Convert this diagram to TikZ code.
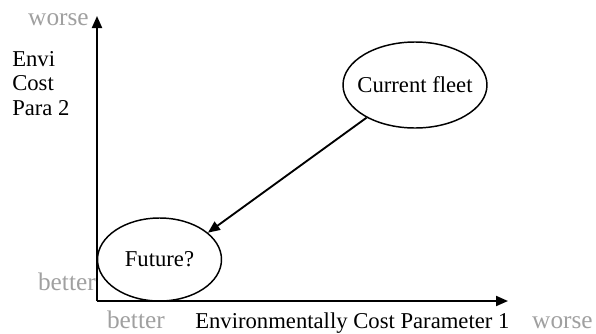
\documentclass[tikz,border=0pt]{standalone}
\usepackage{fontspec}
\setmainfont{Liberation Serif}
\usetikzlibrary{arrows.meta,shapes.geometric}
\definecolor{lightgray}{HTML}{A0A0A0}
\begin{document}
\begin{tikzpicture}[x=0.75pt,y=-0.75pt,
  font=\fontsize{17}{20}\selectfont,
  lbl/.style={inner sep=0pt,text=black},
  graylbl/.style={inner sep=0pt,text=lightgray,font=\fontsize{19}{22}\selectfont},
  bubble/.style={ellipse,draw,line width=1.1pt,inner sep=0pt},
  axis/.style={line width=1.5pt,-{Triangle[length=9pt,width=7.5pt]}},
  trend/.style={line width=1.4pt,-{Triangle[length=9pt,width=7.5pt]}}]
\useasboundingbox (0,0) rectangle (596,333);
% axes
\coordinate (o) at (97,301);
\coordinate (xt) at (508,301);
\coordinate (yt) at (97,16);
\draw[axis] (o) -- (xt);
\draw[axis] (o) -- (yt);
% labels
\node[graylbl,anchor=base east] (worsey) at (89,25) {worse};
\node[lbl,anchor=base west] (l1) at (12,66) {Envi};
\node[lbl,anchor=base west] (l2) at (12,90) {Cost};
\node[lbl,anchor=base west] (l3) at (12,115) {Para 2};
\node[graylbl,anchor=base east] (bettery) at (96,290) {better};
\node[graylbl,anchor=base east] (betterx) at (165,328) {better};
\node[lbl,anchor=base west] (xlabel) at (195,328) {Environmentally Cost Parameter 1};
\node[graylbl,anchor=base east] (worsex) at (593,328) {worse};
% bubbles
\node[bubble,minimum width=108pt,minimum height=64.5pt] (cf) at (415,85) {};
\node[lbl] (cftext) at (cf.center) {Current fleet};
\node[bubble,minimum width=93pt,minimum height=62.25pt] (fu) at (159.5,259.5) {};
\node[lbl] (futext) at (fu.center) {Future?};
\draw[trend] (cf.214) -- (fu.29);
\end{tikzpicture}
\end{document}
